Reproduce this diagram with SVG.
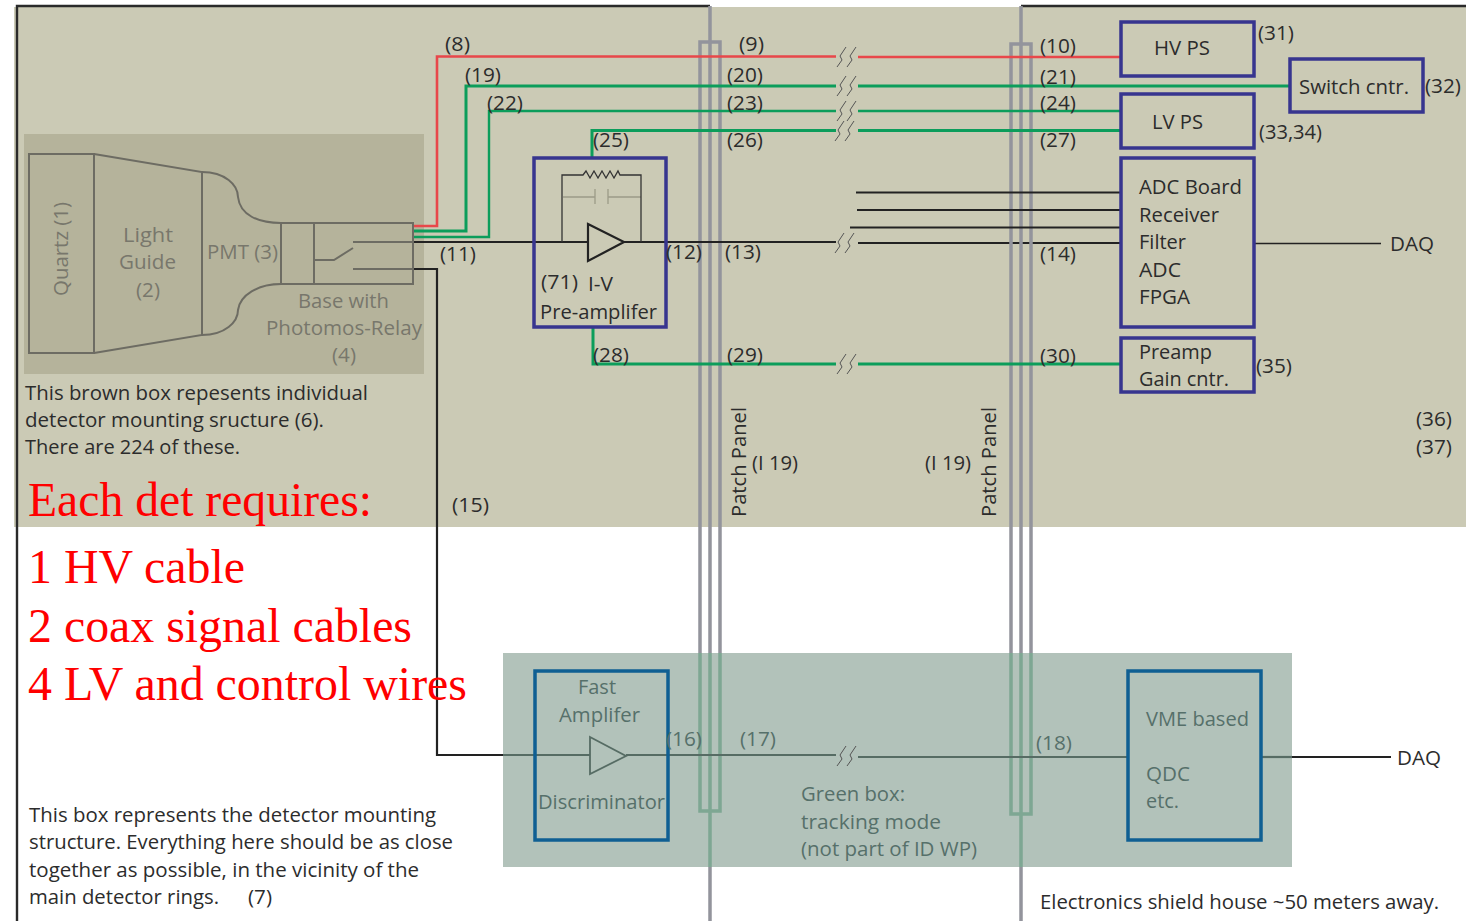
<svg xmlns="http://www.w3.org/2000/svg" width="1466" height="921" viewBox="0 0 1466 921">
<style>
text{font-family:"Open Sans","Noto Sans","Liberation Sans",sans-serif;font-size:20.5px;fill:#2c2c2c}
.g{fill:#78776c}
.gg{fill:#56706a}
.r{font-family:"Liberation Serif","Times New Roman",serif;fill:#f00;font-size:48px}
.box{fill:none;stroke:#37358f;stroke-width:3.5}
.tbox{fill:none;stroke:#0f5f93;stroke-width:3.5}
.det{fill:none;stroke:#6d6c63;stroke-width:2}
.w{fill:none;stroke-linejoin:miter}
.red{stroke:#e8474a;stroke-width:2.6}
.grn{stroke:#0c9d5b;stroke-width:3}
.blk{stroke:#222;stroke-width:2.2}
.gblk{stroke:#566c64;stroke-width:2.2}
.pp{fill:none;stroke:#93949c;stroke-width:3.5}
.ppg{fill:none;stroke:#7ea793;stroke-width:3.5}
.brk{fill:none;stroke:#555;stroke-width:1}
</style>
<defs><path id="brk" class="brk" d="M-10 10L-5 3L-7-1L-1-10M0 10L5 3L3-1L9-10"/></defs>
<rect width="1466" height="921" fill="#fff"/>
<g id="backgrounds">
<rect x="14" y="7" width="1452" height="520" fill="#cbcab5"/>
<rect x="24" y="134" width="400" height="240" fill="#b5b39b"/>
<rect x="503" y="653" width="789" height="214" fill="#b2c2ba"/>
<path d="M17 921V6H710M1021 6H1466" fill="none" stroke="#2a2a2a" stroke-width="2.4"/>
</g>
<g id="connectors-under">
<path class="w blk" d="M858 243H1121"/>
</g>
<g id="patch-panel-1">
<path class="pp" d="M710 6V653M700 653V42H720V653M710 867V921"/>
<path class="ppg" d="M710 653V867M700 653V811H720V653"/>
<text transform="translate(746 517) rotate(-90)" textLength="110" lengthAdjust="spacingAndGlyphs">Patch Panel</text>
<text x="752" y="470" textLength="46" lengthAdjust="spacingAndGlyphs">(I 19)</text>
</g>
<g id="patch-panel-2">
<path class="pp" d="M1021 6V653M1011 653V44H1031V653M1021 867V921"/>
<path class="ppg" d="M1021 653V867M1011 653V814H1031V653"/>
<text transform="translate(996 517) rotate(-90)" textLength="110" lengthAdjust="spacingAndGlyphs">Patch Panel</text>
<text x="925" y="470" textLength="46" lengthAdjust="spacingAndGlyphs">(I 19)</text>
</g>
<g id="connectors">
<path class="w red" d="M413 226H437V56.500H836M858 57H1121"/>
<path class="w grn" d="M413 231H466V86H836M858 86H1291"/>
<path class="w grn" style="stroke-width:2.4" d="M413 237H489V111H836M858 111H1121"/>
<path class="w grn" d="M592 157V130.500H836M858 130.500H1121"/>
<path class="w grn" d="M593 327V364H836M858 364H1121"/>
<path class="w blk" d="M413 242H588M624 242H836"/>
<path class="w blk" d="M856 192.500H1121M857 210H1121M850 227.500H1121"/>
<path class="w blk" style="stroke-width:1.500" d="M1254 243.500H1381"/>
<path class="w blk" d="M413 269H437V755H503"/>
<path class="w gblk" d="M503 755H590M626 755H836M858 757H1128"/>
<path class="w gblk" d="M1261 757H1292"/>
<path class="w blk" d="M1292 757H1391"/>
<use href="#brk" x="847" y="57"/><use href="#brk" x="847" y="86"/><use href="#brk" x="847" y="111"/><use href="#brk" x="845" y="131"/><use href="#brk" x="845" y="243"/><use href="#brk" x="847" y="364"/><use href="#brk" x="847" y="756"/>
</g>
<g id="detector">
<rect class="det" x="29" y="154" width="65" height="199"/>
<path class="det" d="M94 154L202 172V335L94 353"/>
<path class="det" d="M202 172C225 172 238 185 238 197C240 215 258 223 281 223M202 335C225 335 238 322 238 310C240 295 258 284 281 284"/>
<rect class="det" x="281" y="223" width="132" height="61"/>
<path class="det" d="M314 223V284M314 260H334L353 248M353 242H413M353 269H413"/>
<text class="g" transform="translate(68 296) rotate(-90)" textLength="94" lengthAdjust="spacingAndGlyphs">Quartz (1)</text>
<text class="g" x="123" y="242" textLength="50" lengthAdjust="spacingAndGlyphs">Light</text>
<text class="g" x="119" y="269" textLength="57" lengthAdjust="spacingAndGlyphs">Guide</text>
<text class="g" x="136" y="297" textLength="24" lengthAdjust="spacingAndGlyphs">(2)</text>
<text class="g" x="207" y="259" textLength="71" lengthAdjust="spacingAndGlyphs">PMT (3)</text>
<text class="g" x="298" y="308" textLength="91" lengthAdjust="spacingAndGlyphs">Base with</text>
<text class="g" x="266" y="335" textLength="156" lengthAdjust="spacingAndGlyphs">Photomos-Relay</text>
<text class="g" x="332" y="362" textLength="24" lengthAdjust="spacingAndGlyphs">(4)</text>
</g>
<g id="preamp">
<rect class="box" x="534" y="158" width="132" height="169"/>
<path d="M563 197H595M595 189V204M608 189V204M608 197H641" fill="none" stroke="#9c9b88" stroke-width="1.300"/>
<path d="M562 242V175H583L586 171L590 178L594 171L598 178L602 171L606 178L610 171L614 178L618 171L620 175H641V242" fill="none" stroke="#333" stroke-width="1.300"/>
<path d="M588 224L624 242L588 261Z" fill="#cbcab5" stroke="#222" stroke-width="2.200"/>
<text x="541" y="289" textLength="37" lengthAdjust="spacingAndGlyphs">(71)</text>
<text x="588" y="291" textLength="25" lengthAdjust="spacingAndGlyphs">I-V</text>
<text x="540" y="319" textLength="117" lengthAdjust="spacingAndGlyphs">Pre-amplifer</text>
</g>
<g id="hv-ps"><rect class="box" x="1121" y="22" width="133" height="54"/><text x="1154" y="55" textLength="56" lengthAdjust="spacingAndGlyphs">HV PS</text></g>
<g id="switch-cntr"><rect class="box" x="1290" y="59" width="133" height="53"/><text x="1299" y="94" textLength="110" lengthAdjust="spacingAndGlyphs">Switch cntr.</text></g>
<g id="lv-ps"><rect class="box" x="1121" y="94" width="133" height="54"/><text x="1152" y="129" textLength="51" lengthAdjust="spacingAndGlyphs">LV PS</text></g>
<g id="adc-board"><rect class="box" x="1121" y="158" width="133" height="169"/>
<text x="1139" y="194" textLength="103" lengthAdjust="spacingAndGlyphs">ADC Board</text>
<text x="1139" y="222" textLength="80" lengthAdjust="spacingAndGlyphs">Receiver</text>
<text x="1139" y="249" textLength="47" lengthAdjust="spacingAndGlyphs">Filter</text>
<text x="1139" y="277" textLength="42" lengthAdjust="spacingAndGlyphs">ADC</text>
<text x="1139" y="304" textLength="51" lengthAdjust="spacingAndGlyphs">FPGA</text></g>
<g id="preamp-gain"><rect class="box" x="1121" y="338" width="133" height="54"/>
<text x="1139" y="359" textLength="73" lengthAdjust="spacingAndGlyphs">Preamp</text>
<text x="1139" y="386" textLength="90" lengthAdjust="spacingAndGlyphs">Gain cntr.</text></g>
<g id="fast-amp"><rect class="tbox" x="535" y="671" width="133" height="169"/>
<path d="M590 737L626 756L590 774Z" fill="none" stroke="#566c64" stroke-width="1.800"/>
<text class="gg" x="578" y="694" textLength="38" lengthAdjust="spacingAndGlyphs">Fast</text>
<text class="gg" x="559" y="722" textLength="81" lengthAdjust="spacingAndGlyphs">Amplifer</text>
<text class="gg" x="538" y="809" textLength="127" lengthAdjust="spacingAndGlyphs">Discriminator</text></g>
<g id="vme"><rect class="tbox" x="1128" y="671" width="133" height="169"/>
<text class="gg" x="1146" y="726" textLength="103" lengthAdjust="spacingAndGlyphs">VME based</text>
<text class="gg" x="1146" y="781" textLength="44" lengthAdjust="spacingAndGlyphs">QDC</text>
<text class="gg" x="1146" y="808" textLength="33" lengthAdjust="spacingAndGlyphs">etc.</text></g>
<g id="labels">
<text x="445" y="51" textLength="25" lengthAdjust="spacingAndGlyphs">(8)</text>
<text x="739" y="51" textLength="25" lengthAdjust="spacingAndGlyphs">(9)</text>
<text x="1040" y="53" textLength="36" lengthAdjust="spacingAndGlyphs">(10)</text>
<text x="465" y="82" textLength="36" lengthAdjust="spacingAndGlyphs">(19)</text>
<text x="727" y="82" textLength="36" lengthAdjust="spacingAndGlyphs">(20)</text>
<text x="1040" y="84" textLength="36" lengthAdjust="spacingAndGlyphs">(21)</text>
<text x="487" y="110" textLength="36" lengthAdjust="spacingAndGlyphs">(22)</text>
<text x="727" y="110" textLength="36" lengthAdjust="spacingAndGlyphs">(23)</text>
<text x="1040" y="110" textLength="36" lengthAdjust="spacingAndGlyphs">(24)</text>
<text x="593" y="147" textLength="36" lengthAdjust="spacingAndGlyphs">(25)</text>
<text x="727" y="147" textLength="36" lengthAdjust="spacingAndGlyphs">(26)</text>
<text x="1040" y="147" textLength="36" lengthAdjust="spacingAndGlyphs">(27)</text>
<text x="440" y="261" textLength="36" lengthAdjust="spacingAndGlyphs">(11)</text>
<text x="666" y="259" textLength="36" lengthAdjust="spacingAndGlyphs">(12)</text>
<text x="725" y="259" textLength="36" lengthAdjust="spacingAndGlyphs">(13)</text>
<text x="1040" y="261" textLength="36" lengthAdjust="spacingAndGlyphs">(14)</text>
<text x="593" y="362" textLength="36" lengthAdjust="spacingAndGlyphs">(28)</text>
<text x="727" y="362" textLength="36" lengthAdjust="spacingAndGlyphs">(29)</text>
<text x="1040" y="363" textLength="36" lengthAdjust="spacingAndGlyphs">(30)</text>
<text x="452" y="512" textLength="37" lengthAdjust="spacingAndGlyphs">(15)</text>
<text class="gg" x="666" y="746" textLength="36" lengthAdjust="spacingAndGlyphs">(16)</text>
<text class="gg" x="740" y="746" textLength="36" lengthAdjust="spacingAndGlyphs">(17)</text>
<text class="gg" x="1036" y="750" textLength="36" lengthAdjust="spacingAndGlyphs">(18)</text>
<text x="1258" y="40" textLength="36" lengthAdjust="spacingAndGlyphs">(31)</text>
<text x="1425" y="93" textLength="36" lengthAdjust="spacingAndGlyphs">(32)</text>
<text x="1259" y="139" textLength="63" lengthAdjust="spacingAndGlyphs">(33,34)</text>
<text x="1256" y="373" textLength="36" lengthAdjust="spacingAndGlyphs">(35)</text>
<text x="1416" y="426" textLength="36" lengthAdjust="spacingAndGlyphs">(36)</text>
<text x="1416" y="454" textLength="36" lengthAdjust="spacingAndGlyphs">(37)</text>
<text x="1390" y="251" textLength="44" lengthAdjust="spacingAndGlyphs">DAQ</text>
<text x="1397" y="765" textLength="44" lengthAdjust="spacingAndGlyphs">DAQ</text>
<text x="25" y="400" textLength="343" lengthAdjust="spacingAndGlyphs">This brown box repesents individual</text>
<text x="25" y="427" textLength="299" lengthAdjust="spacingAndGlyphs">detector mounting sructure (6).</text>
<text x="25" y="454" textLength="215" lengthAdjust="spacingAndGlyphs">There are 224 of these.</text>
<text x="29" y="822" textLength="407" lengthAdjust="spacingAndGlyphs">This box represents the detector mounting</text>
<text x="29" y="849" textLength="424" lengthAdjust="spacingAndGlyphs">structure. Everything here should be as close</text>
<text x="29" y="877" textLength="390" lengthAdjust="spacingAndGlyphs">together as possible, in the vicinity of the</text>
<text x="29" y="904" textLength="190" lengthAdjust="spacingAndGlyphs">main detector rings.</text>
<text x="248" y="904" textLength="24" lengthAdjust="spacingAndGlyphs">(7)</text>
<text class="gg" x="801" y="801" textLength="104" lengthAdjust="spacingAndGlyphs">Green box:</text>
<text class="gg" x="801" y="829" textLength="140" lengthAdjust="spacingAndGlyphs">tracking mode</text>
<text class="gg" x="801" y="856" textLength="176" lengthAdjust="spacingAndGlyphs">(not part of ID WP)</text>
<text x="1040" y="909" textLength="399" lengthAdjust="spacingAndGlyphs">Electronics shield house ~50 meters away.</text>
<text class="r" x="28" y="516" textLength="344" lengthAdjust="spacingAndGlyphs">Each det requires:</text>
<text class="r" x="28" y="583" textLength="217" lengthAdjust="spacingAndGlyphs">1 HV cable</text>
<text class="r" x="28" y="642" textLength="384" lengthAdjust="spacingAndGlyphs">2 coax signal cables</text>
<text class="r" x="28" y="700" textLength="439" lengthAdjust="spacingAndGlyphs">4 LV and control wires</text>
</g>
</svg>
